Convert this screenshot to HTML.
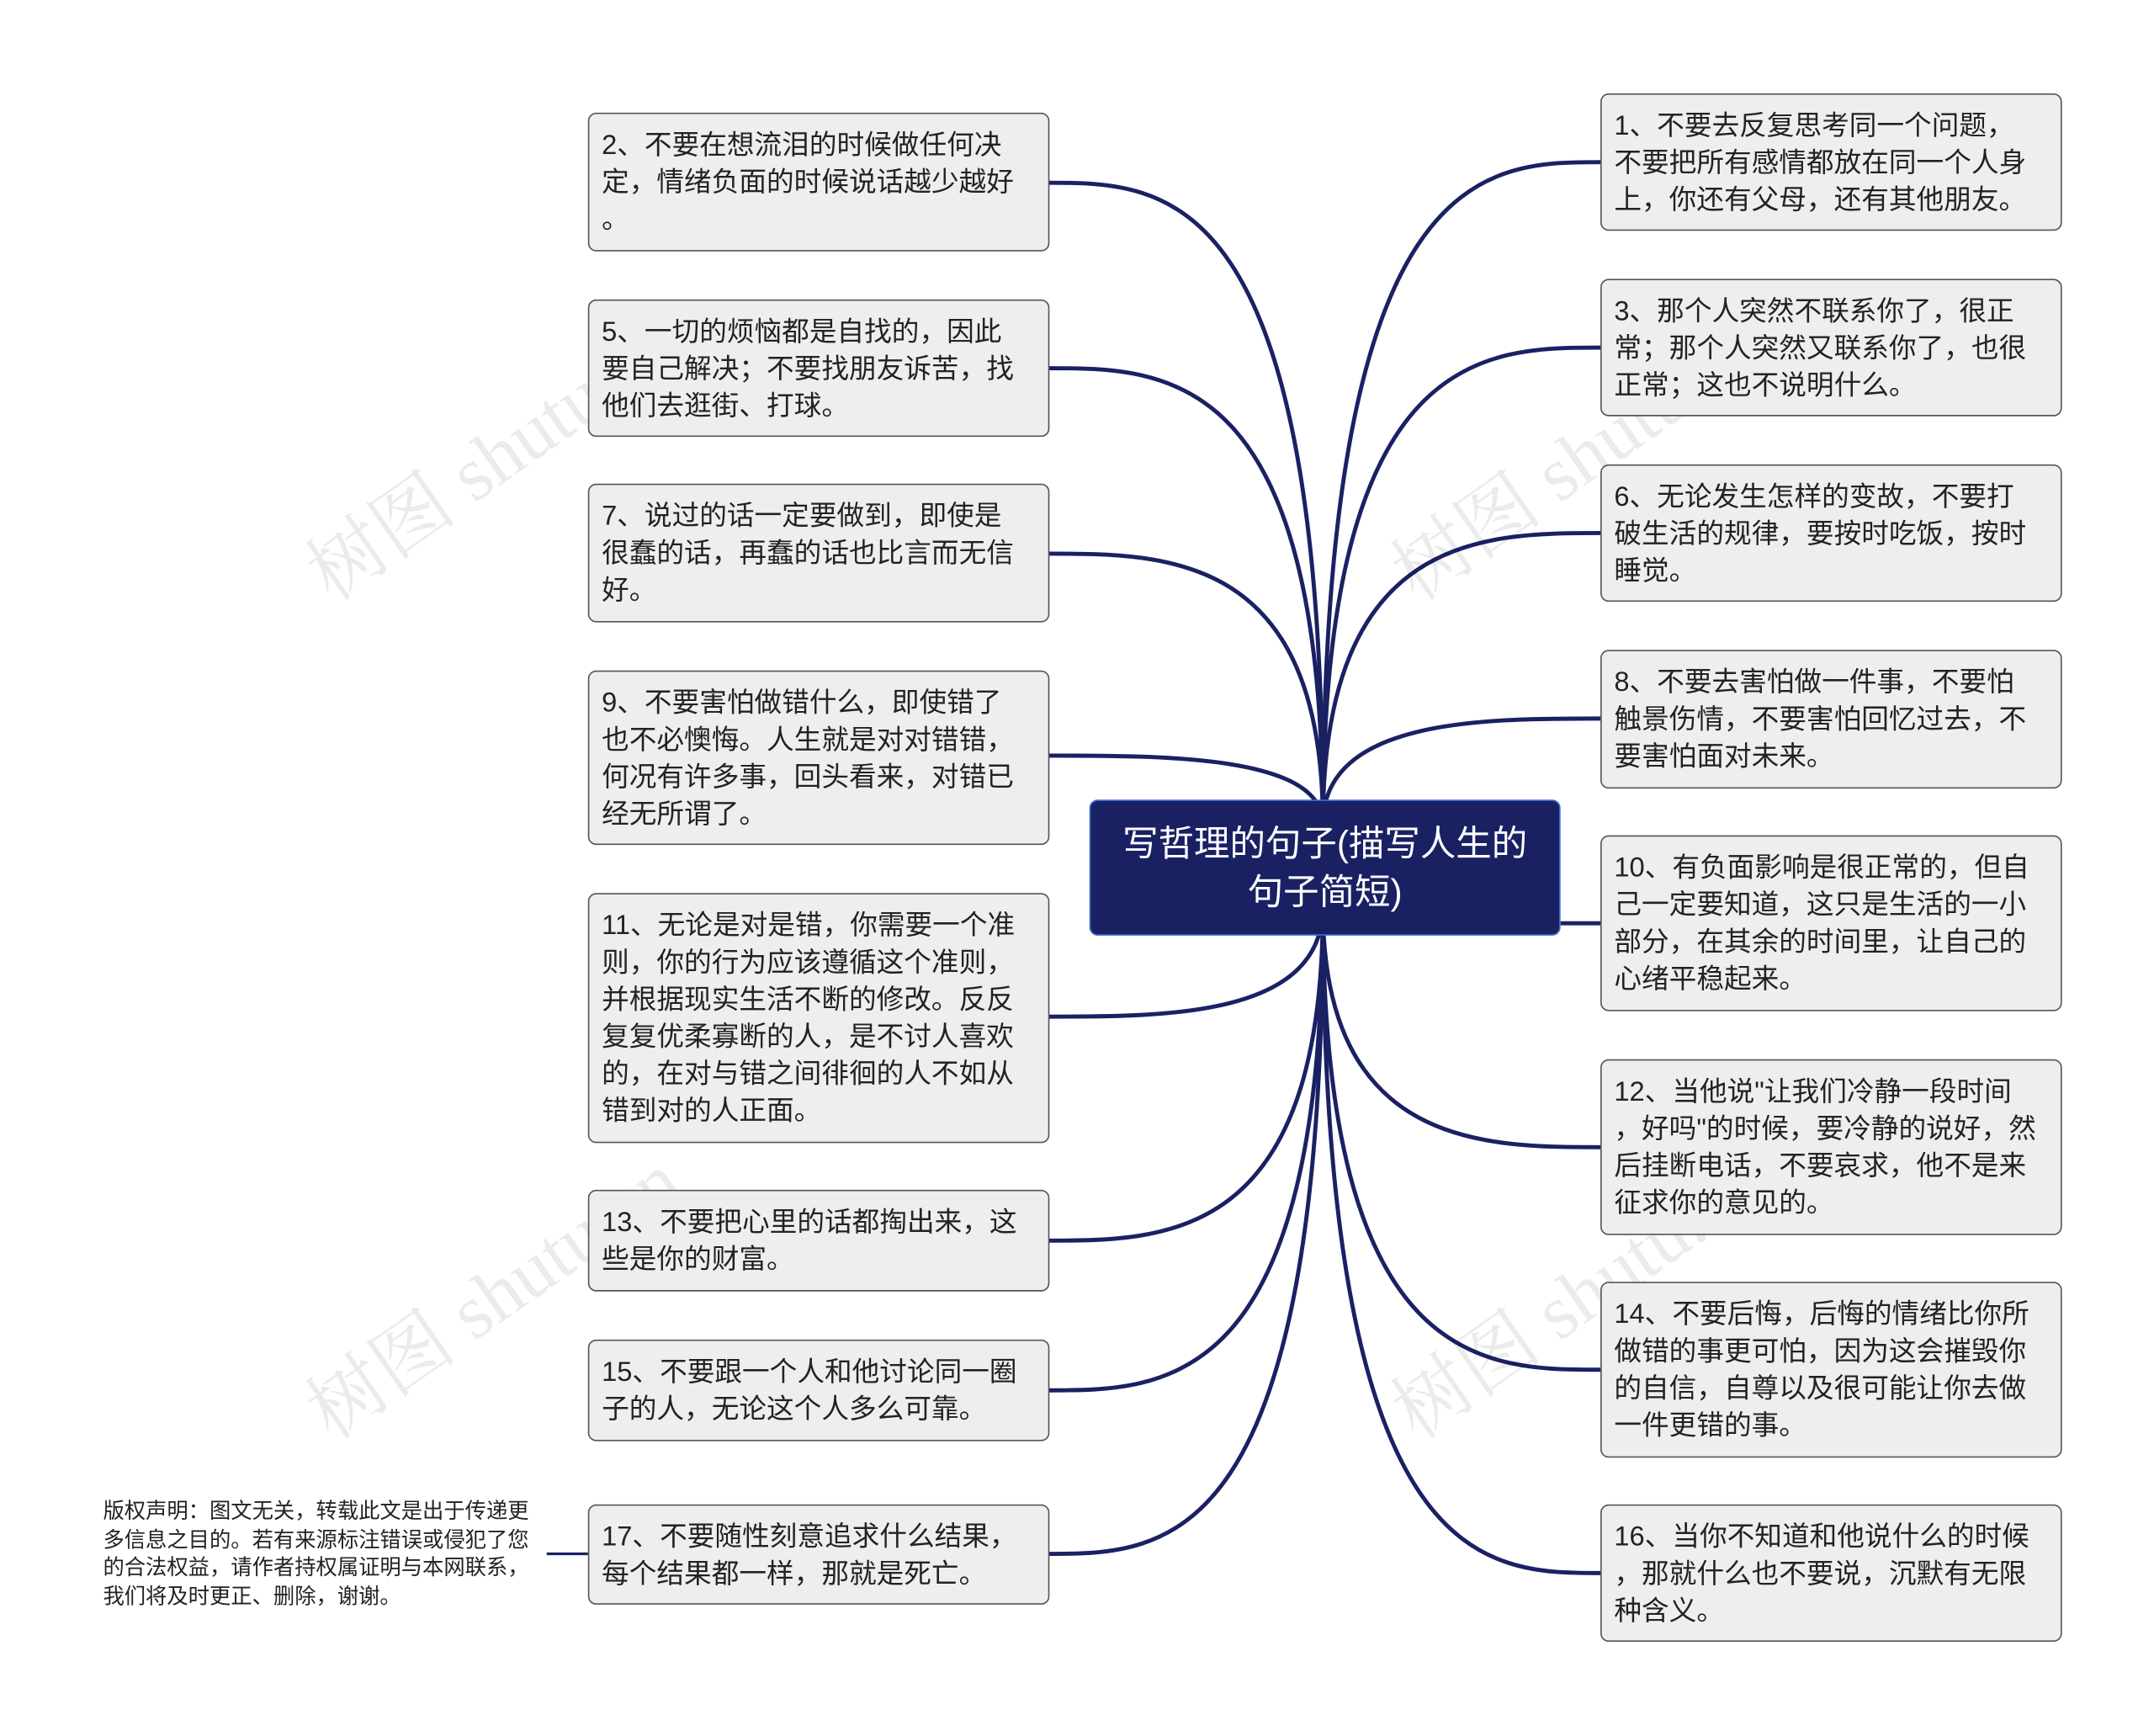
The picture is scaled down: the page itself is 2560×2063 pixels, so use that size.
<!DOCTYPE html>
<html><head><meta charset="utf-8"><style>
html,body{margin:0;padding:0;background:#fff;}
#wrap{width:2560px;height:2063px;overflow:hidden;position:relative;}
#s{position:absolute;left:0;top:0;width:1568px;height:1264px;transform:scale(1.63265);transform-origin:0 0;font-family:"Liberation Sans","Noto Sans CJK SC",sans-serif;}
.b{position:absolute;width:336px;box-sizing:border-box;background:#eeeeee;border:1.3px solid #555;border-radius:6px;padding:10px 9px 8px;font-size:20px;line-height:27px;color:#222;white-space:nowrap;}
.L{left:428px}.R{left:1165px}
#c{position:absolute;left:793px;top:582px;width:343px;height:99px;box-sizing:border-box;background:#1a2163;border:1.5px solid #3d6fd0;border-radius:6px;color:#fff;font-size:26px;line-height:35px;text-align:center;padding-top:14px;}
#cp{position:absolute;left:75px;top:1091px;font-size:15.5px;line-height:20.5px;color:#222;white-space:nowrap;}
.w{position:absolute;font-size:56px;color:rgba(0,0,0,0.08);transform:rotate(-35deg);font-family:"Liberation Serif","Noto Serif CJK SC",serif;white-space:nowrap;}
</style></head><body><div id="wrap"><div id="s">
<svg width="1568" height="1264" style="position:absolute;left:0;top:0" fill="none" stroke="#1a2163" stroke-width="3">
<path d="M963 600 C963 133 850 133 763 133"/>
<path d="M963 600 C963 268 850 268 763 268"/>
<path d="M963 600 C963 403 850 403 763 403"/>
<path d="M963 600 C963 550 850 550 763 550"/>
<path d="M963 660 C963 740 850 740 763 740"/>
<path d="M963 660 C963 903 850 903 763 903"/>
<path d="M963 660 C963 1012 850 1012 763 1012"/>
<path d="M963 660 C963 1131 850 1131 763 1131"/>
<path d="M963 600 C963 118 1080 118 1165 118"/>
<path d="M963 600 C963 253 1080 253 1165 253"/>
<path d="M963 600 C963 388 1080 388 1165 388"/>
<path d="M963 600 C963 523 1080 523 1165 523"/>
<path d="M1136 672 L1165 672"/>
<path d="M963 660 C963 835 1080 835 1165 835"/>
<path d="M963 660 C963 997 1080 997 1165 997"/>
<path d="M963 660 C963 1145 1080 1145 1165 1145"/>
<path d="M398 1131 L428 1131" stroke-width="2"/>
</svg>
<div class="w" style="left:200px;top:290px">树图 shutu.cn</div>
<div class="w" style="left:990px;top:290px">树图 shutu.cn</div>
<div class="w" style="left:200px;top:900px">树图 shutu.cn</div>
<div class="w" style="left:990px;top:900px">树图 shutu.cn</div>
<div id="c">写哲理的句子(描写人生的<br>句子简短)</div>
<div class="b L" style="top:82px;height:101px">2、不要在想流泪的时候做任何决<br>定，情绪负面的时候说话越少越好<br>。</div>
<div class="b L" style="top:218px;height:100px">5、一切的烦恼都是自找的，因此<br>要自己解决；不要找朋友诉苦，找<br>他们去逛街、打球。</div>
<div class="b L" style="top:352px;height:101px">7、说过的话一定要做到，即使是<br>很蠢的话，再蠢的话也比言而无信<br>好。</div>
<div class="b L" style="top:488px;height:127px">9、不要害怕做错什么，即使错了<br>也不必懊悔。人生就是对对错错，<br>何况有许多事，回头看来，对错已<br>经无所谓了。</div>
<div class="b L" style="top:650px;height:182px">11、无论是对是错，你需要一个准<br>则，你的行为应该遵循这个准则，<br>并根据现实生活不断的修改。反反<br>复复优柔寡断的人，是不讨人喜欢<br>的，在对与错之间徘徊的人不如从<br>错到对的人正面。</div>
<div class="b L" style="top:866px;height:74px">13、不要把心里的话都掏出来，这<br>些是你的财富。</div>
<div class="b L" style="top:975px;height:74px">15、不要跟一个人和他讨论同一圈<br>子的人，无论这个人多么可靠。</div>
<div class="b L" style="top:1095px;height:73px">17、不要随性刻意追求什么结果，<br>每个结果都一样，那就是死亡。</div>
<div class="b R" style="top:68px;height:100px">1、不要去反复思考同一个问题，<br>不要把所有感情都放在同一个人身<br>上，你还有父母，还有其他朋友。</div>
<div class="b R" style="top:203px;height:100px">3、那个人突然不联系你了，很正<br>常；那个人突然又联系你了，也很<br>正常；这也不说明什么。</div>
<div class="b R" style="top:338px;height:100px">6、无论发生怎样的变故，不要打<br>破生活的规律，要按时吃饭，按时<br>睡觉。</div>
<div class="b R" style="top:473px;height:101px">8、不要去害怕做一件事，不要怕<br>触景伤情，不要害怕回忆过去，不<br>要害怕面对未来。</div>
<div class="b R" style="top:608px;height:128px">10、有负面影响是很正常的，但自<br>己一定要知道，这只是生活的一小<br>部分，在其余的时间里，让自己的<br>心绪平稳起来。</div>
<div class="b R" style="top:771px;height:128px">12、当他说"让我们冷静一段时间<br>，好吗"的时候，要冷静的说好，然<br>后挂断电话，不要哀求，他不是来<br>征求你的意见的。</div>
<div class="b R" style="top:933px;height:128px">14、不要后悔，后悔的情绪比你所<br>做错的事更可怕，因为这会摧毁你<br>的自信，自尊以及很可能让你去做<br>一件更错的事。</div>
<div class="b R" style="top:1095px;height:100px">16、当你不知道和他说什么的时候<br>，那就什么也不要说，沉默有无限<br>种含义。</div>
<div id="cp">版权声明：图文无关，转载此文是出于传递更<br>多信息之目的。若有来源标注错误或侵犯了您<br>的合法权益，请作者持权属证明与本网联系，<br>我们将及时更正、删除，谢谢。</div>
</div></div></body></html>
